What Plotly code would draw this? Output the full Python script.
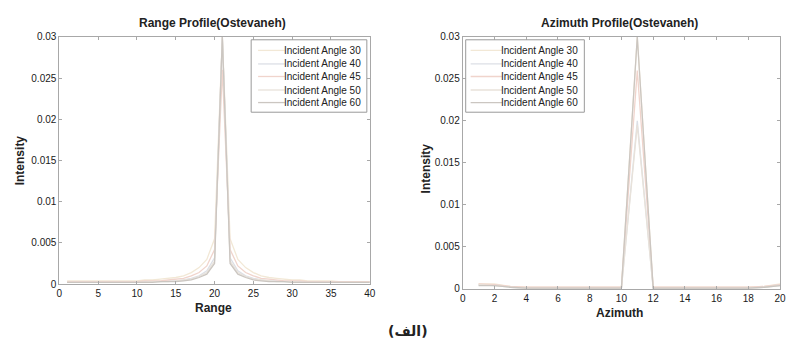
import plotly.graph_objects as go

# ---- data ----
range_x = list(range(1, 41))
range_30 = [0.0004, 0.0004, 0.0004, 0.0004, 0.0004, 0.0004, 0.0004, 0.0004, 0.0004, 0.0004,
            0.0005, 0.0005, 0.0006, 0.0007, 0.0008, 0.0010, 0.0014, 0.0020, 0.0030, 0.0055,
            0.0300, 0.0055, 0.0030, 0.0020, 0.0014, 0.0010, 0.0008, 0.0007, 0.0006, 0.0005,
            0.0005, 0.0004, 0.0004, 0.0004, 0.0004, 0.0003, 0.0003, 0.0003, 0.0003, 0.0003]
range_40 = [0.0002, 0.0002, 0.0002, 0.0002, 0.0002, 0.0002, 0.0002, 0.0002, 0.0002, 0.0003,
            0.0003, 0.0003, 0.0003, 0.0004, 0.0004, 0.0005, 0.0007, 0.0010, 0.0016, 0.0032,
            0.0300, 0.0032, 0.0016, 0.0010, 0.0007, 0.0005, 0.0004, 0.0004, 0.0003, 0.0003,
            0.0003, 0.0002, 0.0002, 0.0002, 0.0002, 0.0002, 0.0002, 0.0002, 0.0002, 0.0002]
range_45 = [0.0003, 0.0003, 0.0003, 0.0003, 0.0003, 0.0003, 0.0003, 0.0003, 0.0003, 0.0003,
            0.0004, 0.0004, 0.0004, 0.0005, 0.0006, 0.0007, 0.0010, 0.0014, 0.0022, 0.0042,
            0.0260, 0.0042, 0.0022, 0.0014, 0.0010, 0.0007, 0.0006, 0.0005, 0.0004, 0.0004,
            0.0004, 0.0003, 0.0003, 0.0003, 0.0003, 0.0003, 0.0003, 0.0003, 0.0003, 0.0003]
range_50 = [0.0002, 0.0002, 0.0002, 0.0002, 0.0002, 0.0002, 0.0002, 0.0002, 0.0002, 0.0002,
            0.0002, 0.0003, 0.0003, 0.0003, 0.0004, 0.0005, 0.0006, 0.0009, 0.0014, 0.0028,
            0.0300, 0.0028, 0.0014, 0.0009, 0.0006, 0.0005, 0.0004, 0.0003, 0.0003, 0.0003,
            0.0002, 0.0002, 0.0002, 0.0002, 0.0002, 0.0002, 0.0002, 0.0002, 0.0002, 0.0002]
range_60 = [0.0002, 0.0002, 0.0002, 0.0002, 0.0002, 0.0002, 0.0002, 0.0002, 0.0002, 0.0002,
            0.0002, 0.0002, 0.0003, 0.0003, 0.0003, 0.0004, 0.0005, 0.0008, 0.0012, 0.0025,
            0.0300, 0.0025, 0.0012, 0.0008, 0.0005, 0.0004, 0.0003, 0.0003, 0.0003, 0.0002,
            0.0002, 0.0002, 0.0002, 0.0002, 0.0002, 0.0002, 0.0002, 0.0002, 0.0002, 0.0002]

az_x = list(range(1, 21))
az_30 = [0.0006, 0.0006, 0.0003, 0.0002, 0.0002, 0.0002, 0.0002, 0.0002, 0.0002, 0.0002,
         0.0300, 0.0002, 0.0002, 0.0002, 0.0002, 0.0002, 0.0002, 0.0002, 0.0003, 0.0006]
az_40 = [0.0005, 0.0005, 0.0002, 0.0001, 0.0001, 0.0001, 0.0001, 0.0001, 0.0001, 0.0001,
         0.0200, 0.0001, 0.0001, 0.0001, 0.0001, 0.0001, 0.0001, 0.0001, 0.0002, 0.0005]
az_45 = [0.0006, 0.0005, 0.0003, 0.0002, 0.0002, 0.0002, 0.0002, 0.0002, 0.0002, 0.0002,
         0.0260, 0.0002, 0.0002, 0.0002, 0.0002, 0.0002, 0.0002, 0.0002, 0.0003, 0.0005]
az_50 = [0.0005, 0.0004, 0.0002, 0.0001, 0.0001, 0.0001, 0.0001, 0.0001, 0.0001, 0.0001,
         0.0195, 0.0001, 0.0001, 0.0001, 0.0001, 0.0001, 0.0001, 0.0001, 0.0002, 0.0004]
az_60 = [0.0004, 0.0004, 0.0002, 0.0001, 0.0001, 0.0001, 0.0001, 0.0001, 0.0001, 0.0001,
         0.0300, 0.0001, 0.0001, 0.0001, 0.0001, 0.0001, 0.0001, 0.0001, 0.0002, 0.0004]

labels = ["Incident Angle 30", "Incident Angle 40", "Incident Angle 45",
          "Incident Angle 50", "Incident Angle 60"]
colors = ["#f2e8d6", "#dcdfe6", "#f0d4cc", "#e8e2da", "#cbc6c1"]

range_series = [range_30, range_40, range_45, range_50, range_60]
az_series = [az_30, az_40, az_45, az_50, az_60]

FONT = "Liberation Sans, Arial, sans-serif"
W, H = 795, 349

fig = go.Figure()
for lab, col, ys in zip(labels, colors, range_series):
    fig.add_trace(go.Scatter(x=range_x, y=ys, mode="lines", name=lab,
                             line=dict(color=col, width=1.3),
                             xaxis="x", yaxis="y", showlegend=False))
for lab, col, ys in zip(labels, colors, az_series):
    fig.add_trace(go.Scatter(x=az_x, y=ys, mode="lines", name=lab,
                             line=dict(color=col, width=1.3),
                             xaxis="x2", yaxis="y2", showlegend=False))

axis_common = dict(showline=True, linecolor="#a8a8a8", linewidth=1, mirror="ticks",
                   ticks="inside", ticklen=3, tickcolor="#a8a8a8", showgrid=False,
                   zeroline=False, tickfont=dict(size=10, color="#1a1a1a", family=FONT))
yticks = [0, 0.005, 0.01, 0.015, 0.02, 0.025, 0.03]
ytext = ["0", "0.005", "0.01", "0.015", "0.02", "0.025", "0.03"]

fig.update_layout(
    width=W, height=H,
    margin=dict(l=0, r=0, t=0, b=0),
    paper_bgcolor="white", plot_bgcolor="white",
    font=dict(family=FONT, color="#222"),
    showlegend=False,
    xaxis=dict(domain=[57 / W, 371 / W], range=[0, 40], tickvals=list(range(0, 41, 5)),
               anchor="y", **axis_common),
    yaxis=dict(domain=[1 - 288 / H, 1 - 32 / H], range=[0, 0.03],
               tickvals=yticks, ticktext=ytext, anchor="x", **axis_common),
    xaxis2=dict(domain=[465 / W, 786 / W], range=[0, 20], tickvals=list(range(0, 21, 2)),
                anchor="y2", **axis_common),
    yaxis2=dict(domain=[1 - 293 / H, 1 - 32 / H], range=[0, 0.03],
                tickvals=yticks, ticktext=ytext, anchor="x2", **axis_common),
)


def px(x):
    return x / W


def py(y):
    return 1 - y / H


shapes = []
ann = []


def legend_box(x0, x1, y0, y1, line_x0, line_x1, text_x, rows):
    shapes.append(dict(type="rect", xref="paper", yref="paper",
                       x0=px(x0), x1=px(x1), y0=py(y1), y1=py(y0),
                       line=dict(color="#9a9a9a", width=1), fillcolor="white", layer="above"))
    for (lab, col, yy) in rows:
        shapes.append(dict(type="line", xref="paper", yref="paper",
                           x0=px(line_x0), x1=px(line_x1), y0=py(yy), y1=py(yy),
                           line=dict(color=col, width=1.3), layer="above"))
        ann.append(dict(text=lab, x=px(text_x), y=py(yy), xref="paper", yref="paper",
                        xanchor="right", yanchor="middle", showarrow=False,
                        font=dict(size=10, color="#222", family=FONT)))


legend_box(251, 368, 35, 110, 258, 285, 364,
           list(zip(labels, colors, [46, 60, 73, 87, 100])))
legend_box(468, 588, 35, 110, 473, 505, 584,
           list(zip(labels, colors, [46, 60, 73, 87, 100])))

ann += [
    dict(text="<b>Range Profile(Ostevaneh)</b>", x=px(212), y=py(18)),
    dict(text="<b>Azimuth Profile(Ostevaneh)</b>", x=px(624), y=py(18)),
    dict(text="<b>Range</b>", x=px(213), y=py(313)),
    dict(text="<b>Azimuth</b>", x=px(624), y=py(318)),
    dict(text="<b>Intensity</b>", x=px(18), y=py(160), textangle=-90),
    dict(text="<b>Intensity</b>", x=px(428), y=py(168), textangle=-90),
]
for a in ann[-6:]:
    a.update(xref="paper", yref="paper", xanchor="center", yanchor="middle",
             showarrow=False, font=dict(size=12, color="#222", family=FONT))
ann.append(dict(text="<b>(الف)</b>", x=px(410), y=py(337), xref="paper", yref="paper",
                xanchor="center", yanchor="middle", showarrow=False,
                font=dict(size=14, color="#222", family="DejaVu Sans")))

fig.update_layout(shapes=shapes, annotations=ann)

fig.write_html("out.html")
